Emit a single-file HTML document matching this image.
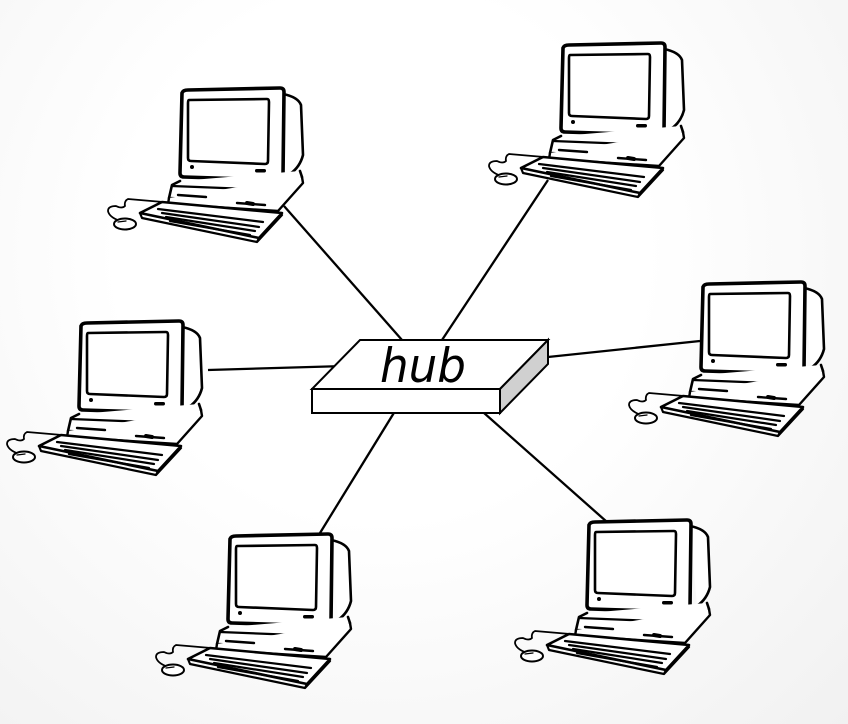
<!DOCTYPE html>
<html><head><meta charset="utf-8"><style>
html,body{margin:0;padding:0;}
body{width:848px;height:724px;overflow:hidden;background:radial-gradient(ellipse at 45% 35%,#ffffff 40%,#f1f1f1 100%);}
svg{display:block;}
</style></head><body>
<svg width="848" height="724" viewBox="0 0 848 724" xmlns="http://www.w3.org/2000/svg">
<defs>
<g id="pc" fill="none" stroke="#000" stroke-linejoin="round" stroke-linecap="round">
  <path d="M183 15 Q198 18 201 26 L203 76 Q200 88 190 95" stroke-width="2.6" fill="#fff"/>
  <path d="M82 14 Q83 11 88 11 L180 9 Q184 9 184 13 L183 97 Q183 101 179 101 L84 98 Q80 98 80 94 Z" stroke-width="3.6" fill="#fff"/>
  <path d="M89 21 L167 20 Q169 20 169 23 L168 82 Q168 85 165 85 L91 82 Q88 82 88 79 L88 24 Q88 21 89 21 Z" stroke-width="2.6" fill="#fff"/>
  <circle cx="92" cy="88" r="2" fill="#000" stroke="none"/>
  <rect x="155" y="90" width="11" height="3.5" rx="1.7" fill="#000" stroke="none"/>
  <path d="M80 102 L72 106 L69 119 L180 124 L202 98 L200 92" stroke-width="2.6" fill="#fff"/>
  <path d="M72 107 L173 111 L180 105" stroke-width="2.2"/>
  <path d="M69 119 L68 125 L178 132 L203 104 L202 98" stroke-width="2.4" fill="#fff"/>
  <path d="M78 116 L106 118" stroke-width="2.4"/>
  <path d="M137 124 L165 126" stroke-width="2.4"/>
  <path d="M147 124 L153 125" stroke-width="4"/>
  <path d="M40 134 L62 123 L182 134 L159 159 Z" stroke-width="2.6" fill="#fff"/>
  <path d="M40 134 L42 139 L157 163 L159 159 M157 163 L182 136" stroke-width="2.2"/>
  <path d="M58 130 L163 143 M62 134 L159 148 M66 138 L155 152 M70 142 L150 156" stroke-width="2.2"/>
  <path d="M63 123 L28 120 Q24 122 25 127 Q22 130 16 127 Q8 127 8 132 Q9 138 20 142" stroke-width="1.8"/>
  <ellipse cx="25" cy="145" rx="11" ry="5.5" stroke-width="2" fill="#fff"/>
  <path d="M18 143 L26 142" stroke-width="1.3"/>
</g>
</defs>
<g stroke="#000" stroke-width="2.3" fill="none">
  <line x1="284" y1="206" x2="402" y2="340"/>
  <line x1="548" y1="180" x2="442" y2="340"/>
  <line x1="208" y1="370" x2="345" y2="366"/>
  <line x1="548" y1="357" x2="700" y2="341"/>
  <line x1="400" y1="403" x2="320" y2="533"/>
  <line x1="475" y1="405" x2="607" y2="522"/>
</g>
<use href="#pc" x="100" y="79"/>
<use href="#pc" x="481" y="34"/>
<use href="#pc" x="-1" y="312"/>
<use href="#pc" x="621" y="273"/>
<use href="#pc" x="148" y="525"/>
<use href="#pc" x="507" y="511"/>
<g stroke="#000" stroke-width="2" stroke-linejoin="miter">
  <polygon points="360,340 548,340 500,389 312,389" fill="#fff"/>
  <polygon points="312,389 500,389 500,413 312,413" fill="#fff"/>
  <polygon points="500,389 548,340 548,364 500,413" fill="#d0d0d0"/>
</g>
<text x="423" y="382" font-family="'DejaVu Sans','Liberation Sans',sans-serif" font-style="italic" font-size="47" text-anchor="middle" fill="#000" textLength="86" lengthAdjust="spacingAndGlyphs">hub</text>
</svg>
</body></html>
